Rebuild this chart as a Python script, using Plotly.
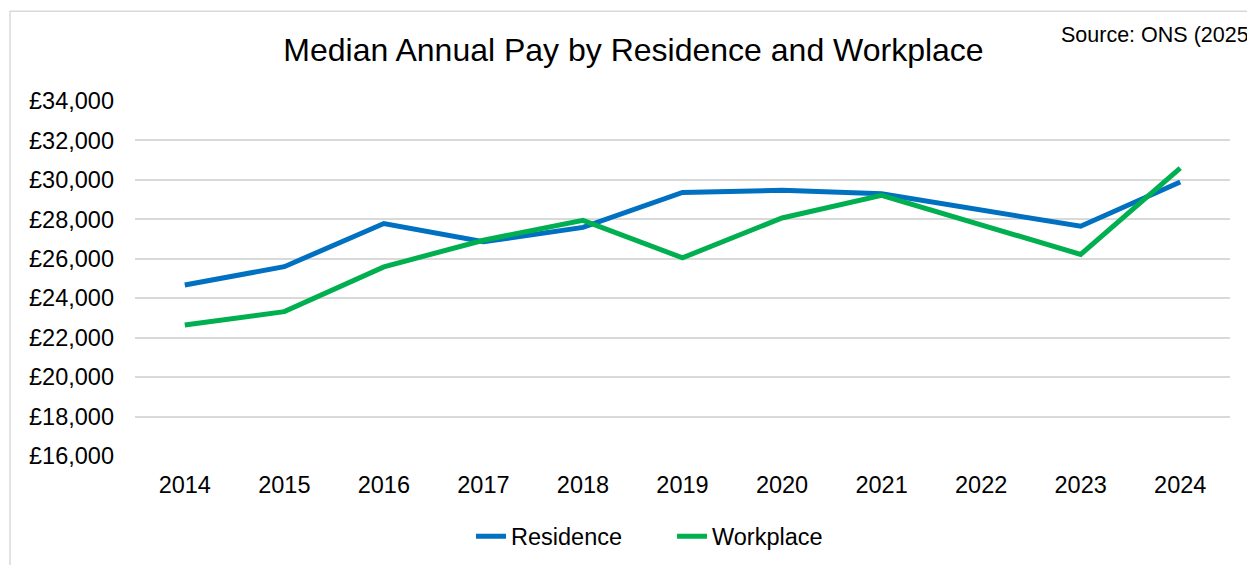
import plotly.graph_objects as go

years = ["2014", "2015", "2016", "2017", "2018", "2019", "2020", "2021", "2022", "2023", "2024"]
residence = [24670, 25600, 27790, 26860, 27590, 29360, 29470, 29300, None, 27650, 29890]
workplace = [22640, 23320, 25590, 26940, 27950, 26050, 28070, 29220, None, 26220, 30600]
y_ticks = list(range(16000, 34001, 2000))
y_tick_labels = ["£" + format(v, ",") for v in y_ticks]

FONT = "Arial, 'Liberation Sans', sans-serif"
W, H = 1247, 565
L, R, T, B = 135, 17, 100.5, 108.7
pw, ph = W - L - R, H - T - B

fig = go.Figure()
fig.add_trace(go.Scatter(x=years, y=residence, name="Residence", mode="lines",
                         connectgaps=True,
                         line=dict(color="#0070C0", width=5)))
fig.add_trace(go.Scatter(x=years, y=workplace, name="Workplace", mode="lines",
                         connectgaps=True,
                         line=dict(color="#00B050", width=5)))

def px_x(p):
    return (p - L) / pw

def px_y(p):
    return 1 - (p - T) / ph

fig.update_layout(
    width=W, height=H, autosize=False,
    margin=dict(l=L, r=R, t=T, b=B, autoexpand=False),
    paper_bgcolor="white", plot_bgcolor="white",
    font=dict(family=FONT, size=23, color="#000000"),
    title=dict(text="Median Annual Pay by Residence and Workplace",
               x=633.5 / W, xanchor="center", xref="container",
               y=1 - 50 / H, yanchor="middle", yref="container",
               font=dict(size=32, family=FONT, color="#000000")),
    xaxis=dict(type="category", range=[-0.5, 10.5], showgrid=False,
               showline=False, zeroline=False, ticks="",
               ticklabelstandoff=12, automargin=False,
               tickfont=dict(size=23.5)),
    yaxis=dict(range=[16000, 34000], tickmode="array", tickvals=y_ticks,
               ticktext=y_tick_labels, automargin=False,
               showgrid=True, gridcolor="#D9D9D9", gridwidth=1.5,
               zeroline=False, showline=False, ticks="",
               ticklabelstandoff=20,
               tickfont=dict(size=23.5)),
    legend=dict(orientation="h", x=px_x(471), xanchor="left",
                y=px_y(537), yanchor="middle",
                font=dict(size=23.5), entrywidth=156, entrywidthmode="pixels",
                bgcolor="rgba(0,0,0,0)"),
    showlegend=True,
)

fig.add_annotation(text="Source: ONS (2025)", xref="paper", yref="paper",
                   x=px_x(1059), y=px_y(34), xanchor="left", yanchor="middle",
                   showarrow=False, font=dict(size=21.5, family=FONT, color="#000000"))

fig.add_shape(type="rect", xref="paper", yref="paper",
              x0=px_x(10), x1=px_x(1275), y0=px_y(590), y1=px_y(10.5),
              line=dict(color="#D9D9D9", width=1.5), fillcolor="rgba(0,0,0,0)",
              layer="below")

fig.write_html("out.html", config={"displayModeBar": False},
               post_script="document.body.style.margin='0';document.body.style.overflow='hidden';")
